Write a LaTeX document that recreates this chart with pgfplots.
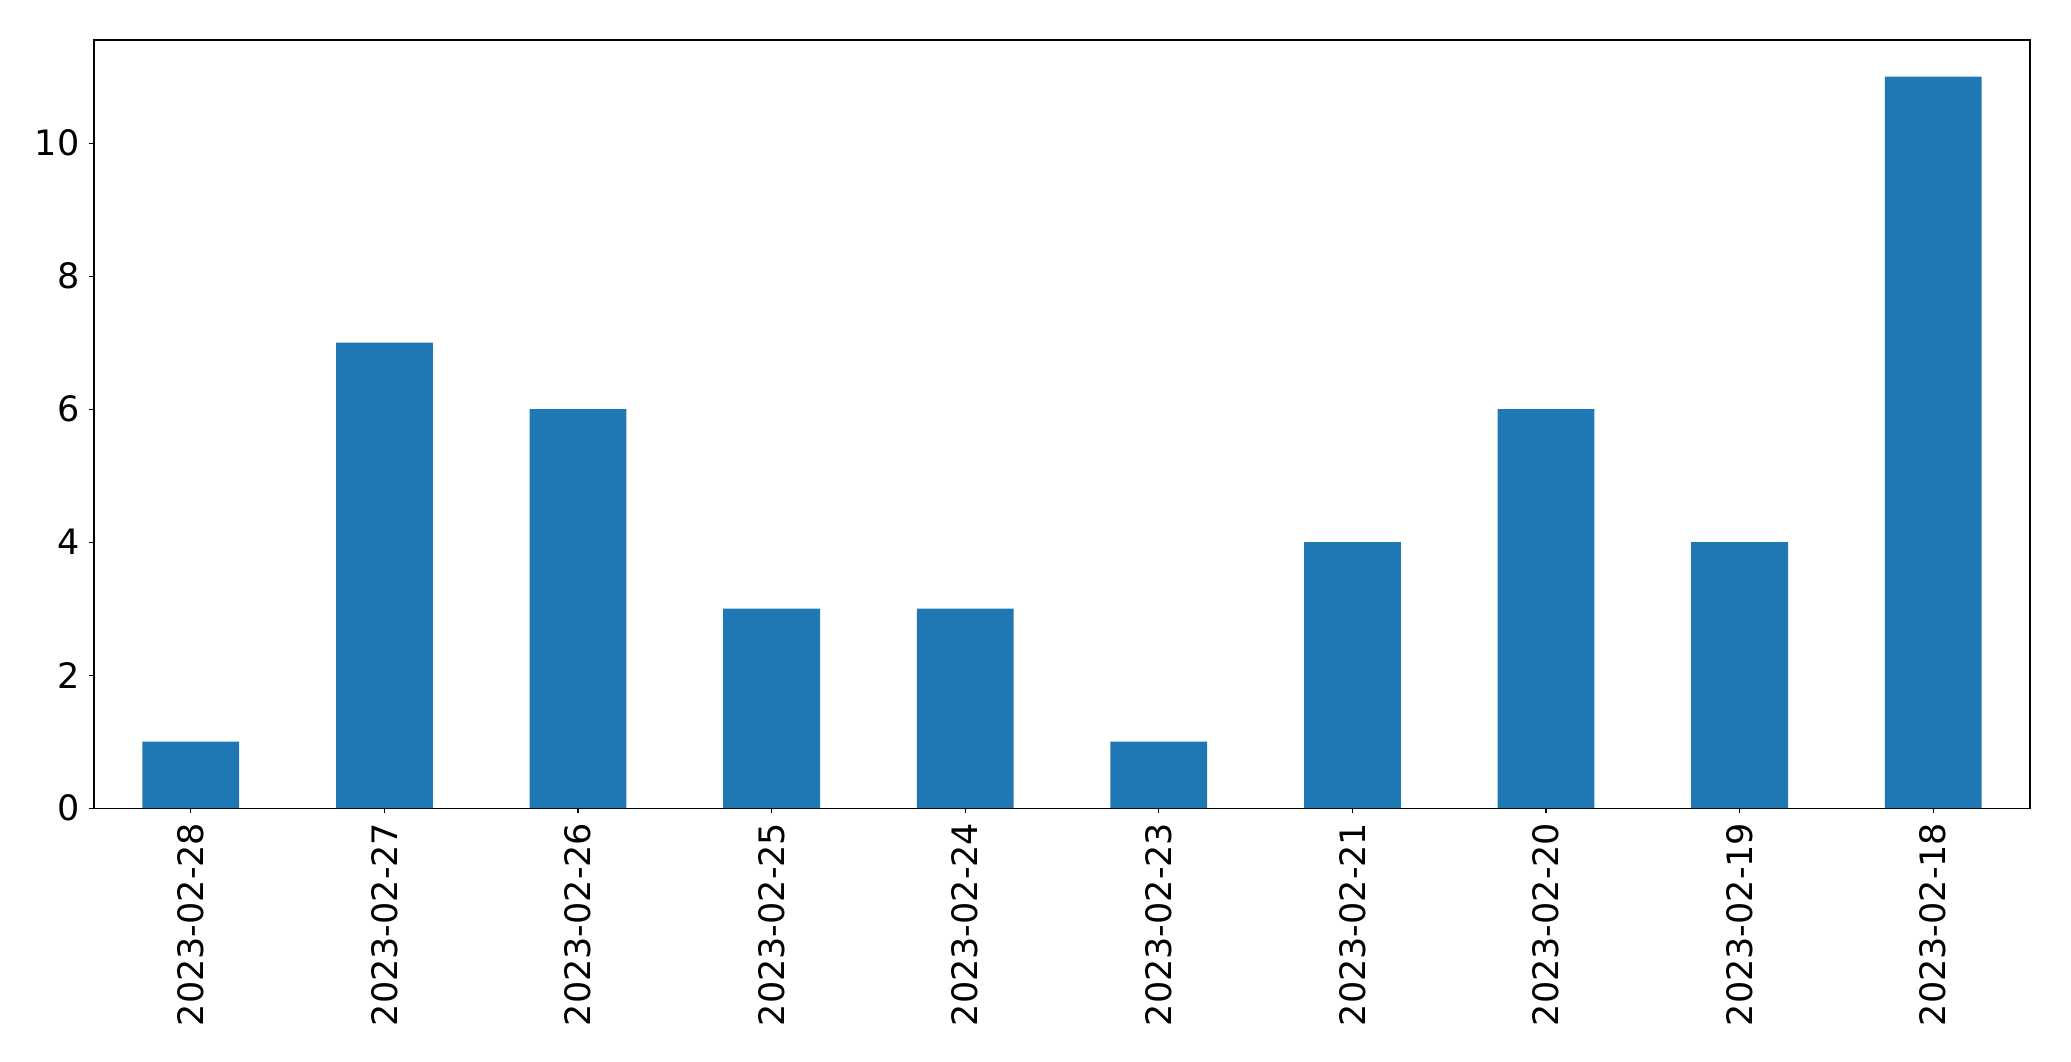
\documentclass[border=0pt]{standalone}
\usepackage{fontspec}
\setmainfont{DejaVu Sans}
\usepackage{pgfplots}
\pgfplotsset{compat=1.18}
\definecolor{mplblue}{HTML}{1F77B4}
\begin{document}
\begin{tikzpicture}
\begin{axis}[
  scale only axis,
  width=1393.9pt, height=553pt,
  xmin=-0.5, xmax=9.5,
  ymin=0, ymax=11.55,
  xtick=data,
  xticklabels={2023-02-28,2023-02-27,2023-02-26,2023-02-25,2023-02-24,2023-02-23,2023-02-21,2023-02-20,2023-02-19,2023-02-18},
  x tick label style={rotate=90, anchor=east},
  ytick={0,2,4,6,8,10},
  tick label style={font=\fontsize{25.2}{30}\selectfont},
  /pgf/number format/assume math mode=true,
  tick align=outside,
  xtick pos=bottom, ytick pos=left,
  major tick length=3.5pt,
  tick style={black, line width=0.8pt},
  axis line style={line width=0.8pt},
  xticklabel shift=3.5pt, yticklabel shift=3.5pt,
]
\addplot[ybar, bar width=0.5, fill=mplblue, draw=none] coordinates {
(0,1) (1,7) (2,6) (3,3) (4,3) (5,1) (6,4) (7,6) (8,4) (9,11)
};
\end{axis}
\path[use as bounding box] (current axis.south west) ++(-67.7pt,-182.2pt) rectangle ([shift={(29.5pt,28.8pt)}]current axis.north east);
\end{tikzpicture}
\end{document}
